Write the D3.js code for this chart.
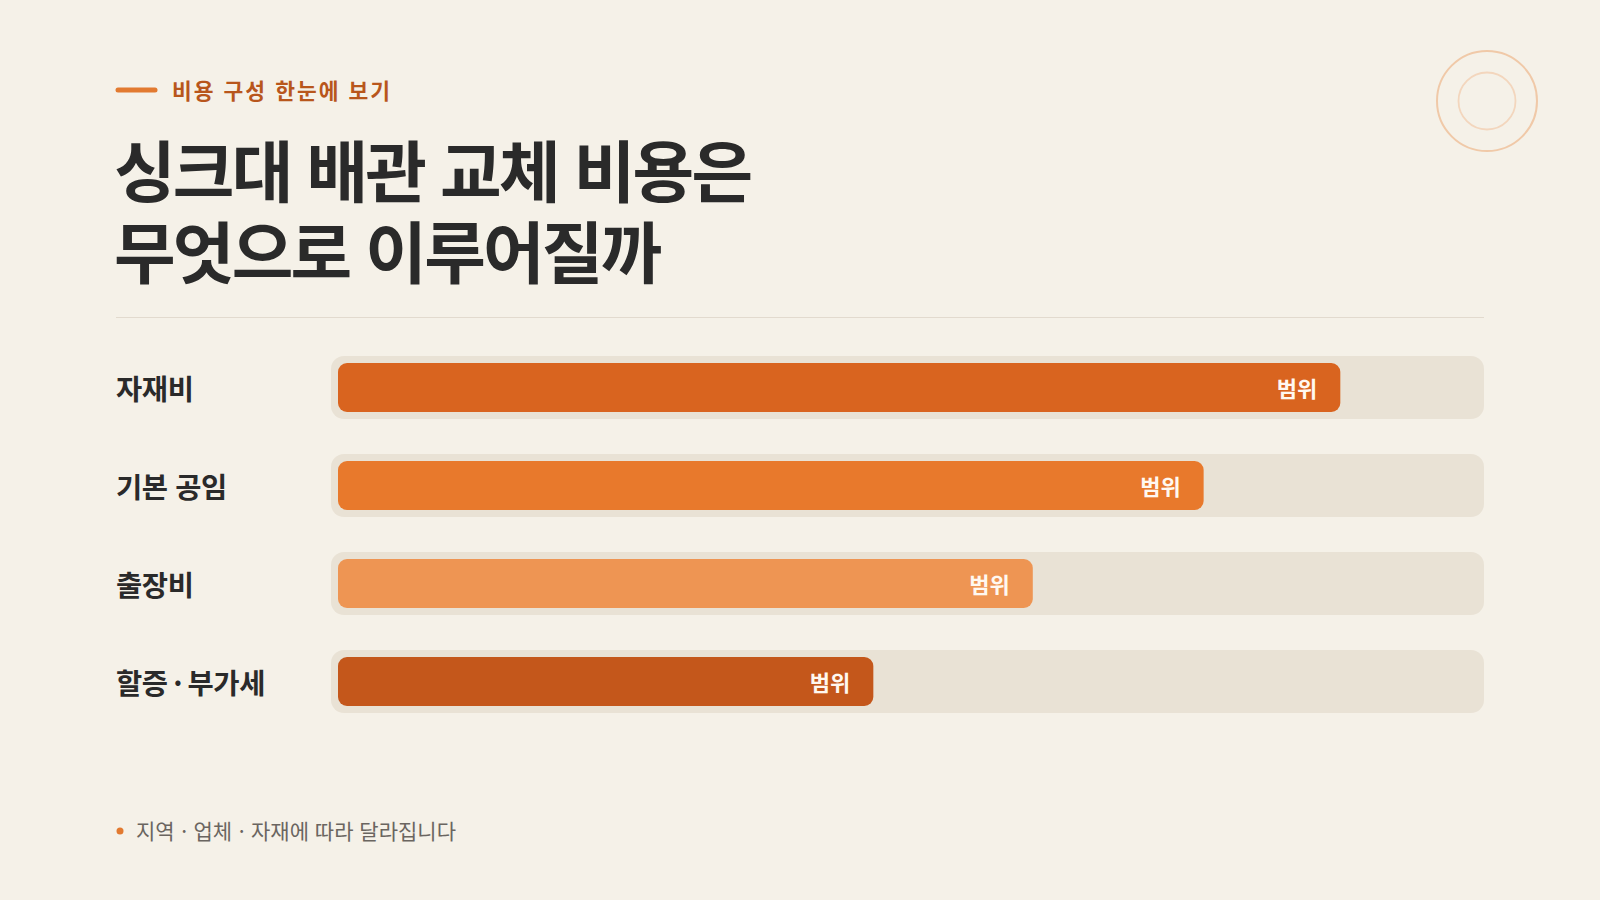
<!DOCTYPE html>
<html lang="ko">
<head>
<meta charset="utf-8">
<script src="https://cdn.jsdelivr.net/npm/d3@7"></script>
<style>
  html, body { margin: 0; padding: 0; background: #f5f1e8; }
  svg { display: block; }
  text { font-family: "Noto Sans CJK KR", "Noto Sans", sans-serif; }
</style>
</head>
<body>
<svg id="chart" width="1600" height="900"></svg>
<script>
const categories = ["자재비", "기본 공임", "출장비", "할증·부가세"];
const values = [88, 76, 61, 47];
const barLabels = ["범위", "범위", "범위", "범위"];
const barColors = ["#d9641f", "#e8792c", "#ee9553", "#c4571b"];

const eyebrow = "비용 구성 한눈에 보기";
const titleLines = ["싱크대 배관 교체 비용은", "무엇으로 이루어질까"];
const footnote = "지역·업체·자재에 따라 달라집니다";

const W = 1600, H = 900;
const svg = d3.select("#chart");
svg.append("rect").attr("width", W).attr("height", H).attr("fill", "#f5f1e8");

// helper: write text with a little air around middle dots
function dotted(sel, str, gap) {
  const parts = str.split("·");
  parts.forEach((p, i) => {
    if (i > 0) sel.append("tspan").attr("dx", gap).text("·");
    sel.append("tspan").attr("dx", i > 0 ? gap : 0).text(p);
  });
}

// decorative circles
svg.append("circle").attr("cx", 1487).attr("cy", 101).attr("r", 50)
  .attr("fill", "none").attr("stroke", "#f0c9a8").attr("stroke-width", 2);
svg.append("circle").attr("cx", 1487).attr("cy", 101).attr("r", 28.5)
  .attr("fill", "none").attr("stroke", "#f3d6bd").attr("stroke-width", 1.8);

// eyebrow
svg.append("line").attr("x1", 118).attr("x2", 155).attr("y1", 90).attr("y2", 90)
  .attr("stroke", "#e27a30").attr("stroke-width", 5).attr("stroke-linecap", "round");
svg.append("text").attr("x", 172).attr("y", 99)
  .attr("font-size", 21.5).attr("font-weight", 700).attr("fill", "#b8561c")
  .attr("letter-spacing", 2)
  .text(eyebrow);

// title
svg.append("text").attr("x", 114).attr("y", 197)
  .attr("font-size", 67).attr("font-weight", 700).attr("fill", "#2a2a2a")
  .attr("letter-spacing", -2.8)
  .selectAll("tspan").data(titleLines).join("tspan")
  .attr("x", 114).attr("dy", (d, i) => i === 0 ? 0 : 81).text(d => d);

// divider
svg.append("line").attr("x1", 116).attr("x2", 1484).attr("y1", 317.5).attr("y2", 317.5)
  .attr("stroke", "#e2dace").attr("stroke-width", 1);

// chart
const trackX0 = 331, trackX1 = 1484, inset = 7, trackH = 63, step = 98;
const y = d3.scaleBand().domain(categories)
  .range([356, 356 + step * (categories.length - 1) + trackH])
  .paddingInner((step - trackH) / step).paddingOuter(0);
const x = d3.scaleLinear().domain([0, 100]).range([trackX0 + inset, trackX1 - inset]);

const rows = svg.append("g").selectAll("g").data(categories).join("g");

rows.append("rect")
  .attr("x", trackX0).attr("y", d => y(d))
  .attr("width", trackX1 - trackX0).attr("height", y.bandwidth())
  .attr("rx", 13).attr("fill", "#e9e2d5");

rows.append("rect")
  .attr("x", x(0)).attr("y", d => y(d) + inset)
  .attr("width", (d, i) => x(values[i]) - x(0)).attr("height", y.bandwidth() - 2 * inset)
  .attr("rx", 9).attr("fill", (d, i) => barColors[i]);

rows.append("text")
  .attr("x", (d, i) => x(values[i]) - 23)
  .attr("y", d => y(d) + y.bandwidth() / 2 - 1)
  .attr("text-anchor", "end").attr("dominant-baseline", "central")
  .attr("font-size", 22).attr("font-weight", 700).attr("fill", "#fff8f0")
  .text((d, i) => barLabels[i]);

rows.append("text")
  .attr("x", 116).attr("y", d => y(d) + y.bandwidth() / 2 - 1)
  .attr("dominant-baseline", "central")
  .attr("font-size", 28.5).attr("font-weight", 700).attr("fill", "#2a2a2a")
  .attr("letter-spacing", -0.4)
  .each(function (d) { dotted(d3.select(this), d, 5.5); });

// footnote
svg.append("circle").attr("cx", 120).attr("cy", 831).attr("r", 3.5).attr("fill", "#e27a30");
svg.append("text").attr("x", 136).attr("y", 830)
  .attr("dominant-baseline", "central")
  .attr("font-size", 21).attr("fill", "#6a6560")
  .call(dotted, footnote, 6.5);
</script>
</body>
</html>
